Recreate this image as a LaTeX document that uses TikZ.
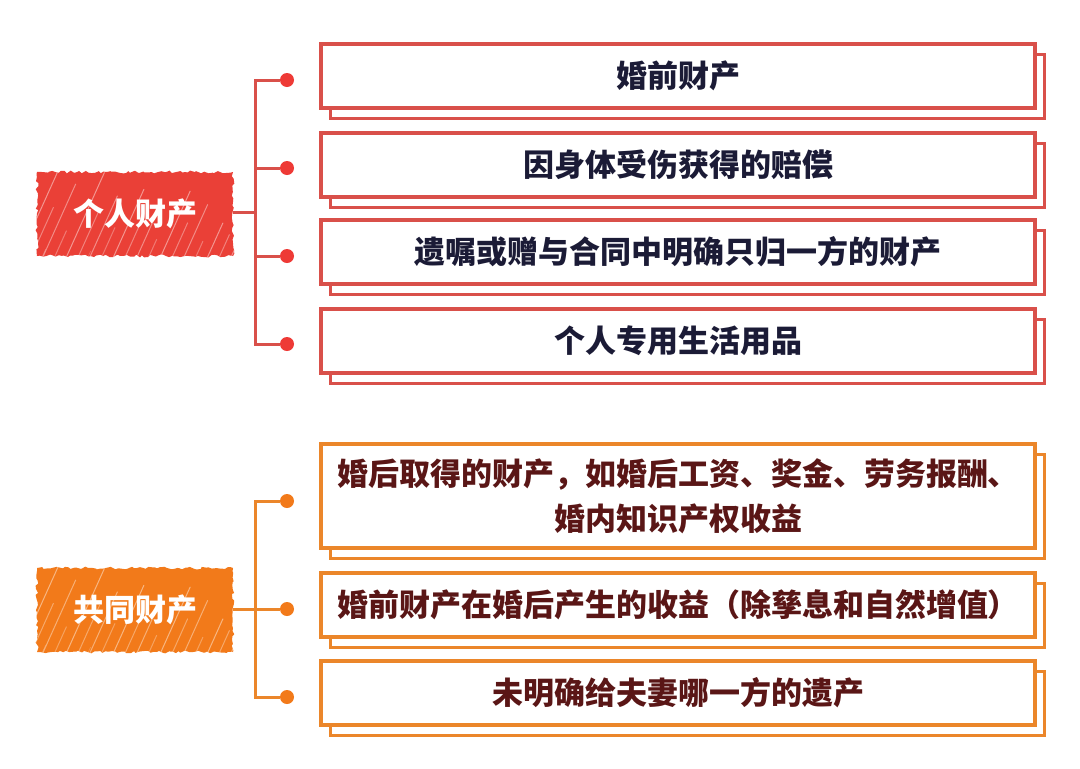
\documentclass[tikz,border=0pt]{standalone}
\usepackage{fontspec}
\setmainfont{Noto Sans CJK SC}
\usetikzlibrary{decorations.pathmorphing}
\definecolor{redline}{HTML}{D9504A}
\definecolor{redfill}{HTML}{EA4037}
\definecolor{orgline}{HTML}{EB862A}
\definecolor{orgfill}{HTML}{F27A1A}
\definecolor{navytxt}{HTML}{1B1B36}
\definecolor{maroontxt}{HTML}{5A1616}
\definecolor{dotred}{HTML}{EE3A36}
\definecolor{dotorg}{HTML}{F27A1A}
\begin{document}
\begin{tikzpicture}[x=1pt,y=-1pt,
  frontbox/.style={draw=#1, line width=3.5pt, fill=white, minimum width=714pt,
    minimum height=64pt, inner sep=0pt, align=center,
    font=\fontsize{31}{45}\selectfont\bfseries},
  backbox/.style={draw=#1, line width=3pt, fill=white, minimum width=714pt,
    minimum height=64pt, inner sep=0pt},
  labelbox/.style={fill=#1, minimum width=196pt, minimum height=84pt, inner sep=0pt,
    text=white, font=\fontsize{31}{36}\selectfont\bfseries,
    decoration={random steps, segment length=3pt, amplitude=1.4pt}, decorate,
    path picture={
      \foreach \k/\o/\l in {0/0.4/70,1/0.3/40,2/0.45/90,3/0.35/55,4/0.4/80,5/0.3/35,6/0.45/95,7/0.35/60,8/0.4/75,9/0.3/45,10/0.45/85,11/0.35/50,12/0.4/70,13/0.3/40,14/0.45/90,15/0.35/60,16/0.4/80,17/0.3/45,18/0.45/65,19/0.35/55,20/0.4/75,21/0.35/50,22/0.4/85,23/0.3/40}{
        \draw[white, opacity=\o, line width=1pt, line cap=round]
          ([xshift=\k*11pt-40pt, yshift=-\k*1.7pt]path picture bounding box.south west) -- ++(0.45*\l,-\l);
        \draw[white, opacity=0.5*\o, line width=0.6pt, line cap=round]
          ([xshift=\k*11pt-30pt, yshift=-\k*1.1pt-30pt]path picture bounding box.south west) -- ++(0.2*\l,-0.45*\l);
      }}},
  dotstyle/.style={circle, fill=#1, minimum size=14pt, inner sep=0pt},
  brk/.style={draw=#1, line width=3pt}
]
\useasboundingbox[fill=white] (0,0) rectangle (1080,769);
\pgfmathsetseed{7}

% ---------- 个人财产 ----------
\node[backbox=redline] (r1s) at (687,86) {};
\node[frontbox=redline, text=navytxt] (r1) at (678,76) {婚前财产};
\node[backbox=redline] (r2s) at (687,175) {};
\node[frontbox=redline, text=navytxt] (r2) at (678,165) {因身体受伤获得的赔偿};
\node[backbox=redline] (r3s) at (687,262) {};
\node[frontbox=redline, text=navytxt] (r3) at (678,252) {遗嘱或赠与合同中明确只归一方的财产};
\node[backbox=redline] (r4s) at (687,351) {};
\node[frontbox=redline, text=navytxt] (r4) at (678,341) {个人专用生活用品};

\node[labelbox=redfill] (lab1) at (135,214) {个人财产};

\coordinate (jr) at (255,212);
\node[dotstyle=dotred] (dr1) at (287,80) {};
\node[dotstyle=dotred] (dr2) at (287,168) {};
\node[dotstyle=dotred] (dr3) at (287,256) {};
\node[dotstyle=dotred] (dr4) at (287,344) {};
\draw[brk=redline] (dr1.west) -| (jr);
\draw[brk=redline] (dr4.west) -| (jr);
\draw[brk=redline] (dr2.west) -- (dr2.west -| jr);
\draw[brk=redline] (dr3.west) -- (dr3.west -| jr);
\draw[brk=redline] (lab1.east |- jr) -- (jr);

% ---------- 共同财产 ----------
\node[backbox=orgline, minimum height=104pt] (o1s) at (687,506) {};
\node[frontbox=orgline, text=maroontxt, minimum height=104pt] (o1) at (678,496) {婚后取得的财产，如婚后工资、奖金、劳务报酬、\\婚内知识产权收益};
\node[backbox=orgline] (o2s) at (687,615) {};
\node[frontbox=orgline, text=maroontxt] (o2) at (678,605) {婚前财产在婚后产生的收益（除孳息和自然增值）};
\node[backbox=orgline] (o3s) at (687,703) {};
\node[frontbox=orgline, text=maroontxt] (o3) at (678,693) {未明确给夫妻哪一方的遗产};

\node[labelbox=orgfill] (lab2) at (135,610) {共同财产};

\coordinate (jo) at (255,609);
\node[dotstyle=dotorg] (do1) at (287,501) {};
\node[dotstyle=dotorg] (do2) at (287,609) {};
\node[dotstyle=dotorg] (do3) at (287,697) {};
\draw[brk=orgline] (do1.west) -| (jo);
\draw[brk=orgline] (do3.west) -| (jo);
\draw[brk=orgline] (do2.west) -- (jo);
\draw[brk=orgline] (lab2.east |- jo) -- (jo);
\end{tikzpicture}
\end{document}
